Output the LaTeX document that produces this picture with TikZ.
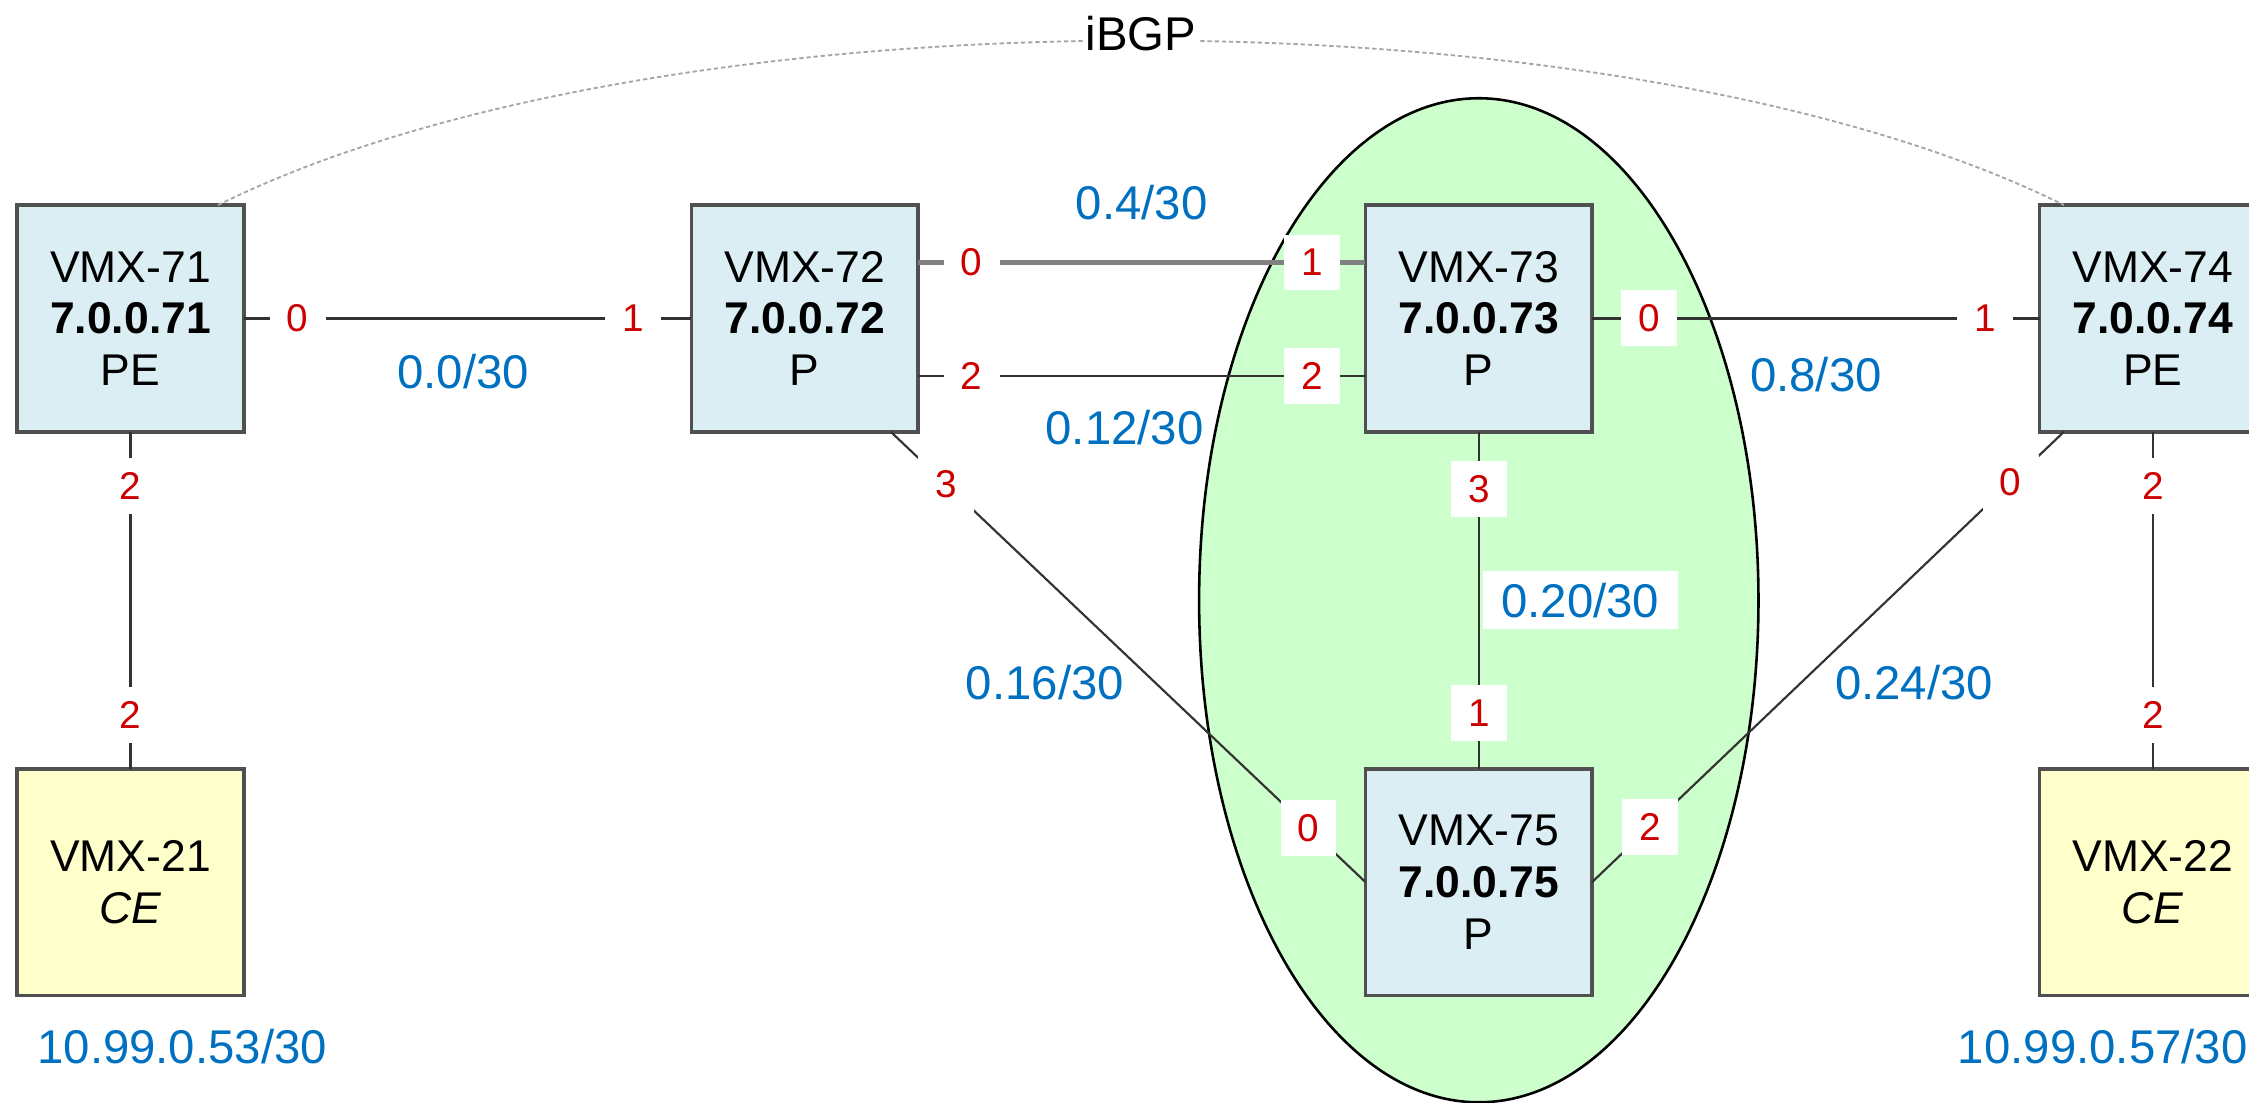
\documentclass[tikz,border=0pt]{standalone}
\usepackage{fontspec}
\setmainfont{Liberation Sans}
\usetikzlibrary{positioning, calc, backgrounds}
\definecolor{routerfill}{RGB}{219, 238, 243}
\definecolor{cefill}{RGB}{255, 255, 204}
\definecolor{areafill}{RGB}{204, 255, 204}
\definecolor{portred}{RGB}{204, 0, 0}
\definecolor{netblue}{RGB}{0, 112, 192}
\definecolor{boxedge}{RGB}{80, 80, 80}

\begin{document}
\begin{tikzpicture}[
    % Global settings
    x=1pt, y=-1pt,
    node distance=235pt and 312pt,
    % Box styles
    router/.style={
        rectangle,
        minimum width=158pt,
        minimum height=158pt,
        align=center,
        draw=boxedge,
        fill=routerfill,
        line width=2.5pt,
        outer sep=0pt,
        font=\fontsize{31}{36}\selectfont
    },
    ce/.style={
        router,
        fill=cefill
    },
    % Link styles
    wire/.style={
        draw=black!80,
        line width=1.5pt
    },
    trunk/.style={
        draw=black!50,
        line width=3.5pt
    },
    ibgp/.style={
        draw=black!35,
        line width=1.3pt,
        dash pattern=on 3pt off 2pt
    },
    area/.style={
        fill=areafill,
        draw=black,
        line width=1.8pt
    },
    % Label styles
    port/.style={
        fill=white,
        text=portred,
        minimum width=39pt,
        minimum height=39pt,
        inner sep=0pt,
        font=\fontsize{27}{32}\selectfont
    },
    net/.style={
        text=netblue,
        inner sep=2pt,
        font=\fontsize{33}{40}\selectfont
    }
]

\useasboundingbox (0,0) rectangle (1568,769);
\clip (0,0) rectangle (1568,769);

% --- Routers ---
\node (vmx71) [router] at (91,222) {VMX-71\\\textbf{7.0.0.71}\\PE};
\node (vmx72) [router, right=of vmx71] {VMX-72\\\textbf{7.0.0.72}\\P};
\node (vmx73) [router, right=of vmx72] {VMX-73\\\textbf{7.0.0.73}\\P};
\node (vmx74) [router, right=of vmx73] {VMX-74\\\textbf{7.0.0.74}\\PE};
\node (vmx75) [router, below=of vmx73] {VMX-75\\\textbf{7.0.0.75}\\P};

% Customer edges
\node (vmx21) [ce, below=of vmx71] {VMX-21\\\textit{CE}};
\node (vmx22) [ce, below=of vmx74] {VMX-22\\\textit{CE}};

\node (net21) [net, below=21pt of vmx21, xshift=36pt] {10.99.0.53/30};
\node (net22) [net, below=21pt of vmx22, xshift=-35pt] {10.99.0.57/30};

% --- Links ---
\draw [wire] (vmx71) -- (vmx72)
    node[port, pos=0.12] {0} node[port, pos=0.87] {1}
    node[net, midway, xshift=-3pt, yshift=-37pt] {0.0/30};
\draw [trunk] ([yshift=39pt]vmx72.east) -- ([yshift=39pt]vmx73.west)
    node[port, pos=0.12] {0} node[port, pos=0.88] {1}
    node[net, midway, yshift=42pt] {0.4/30};
\draw [wire] ([yshift=-40pt]vmx72.east) -- ([yshift=-40pt]vmx73.west)
    node[port, pos=0.12] {2} node[port, pos=0.88] {2}
    node[net, midway, xshift=-12pt, yshift=-36pt] {0.12/30};
\draw [wire] (vmx73) -- (vmx74)
    node[port, pos=0.128] {0} node[port, pos=0.878] {1}
    node[net, midway, yshift=-39pt] {0.8/30};
\draw [wire] (vmx73) -- (vmx75)
    node[port, pos=0.17] {3} node[port, pos=0.834] {1}
    node[net, midway, anchor=west, xshift=2pt, fill=white, inner xsep=13pt, inner ysep=8pt] {0.20/30};
\draw [wire] ([xshift=-19pt]vmx72.south east) -- (vmx75.west)
    node[port, pos=0.116] {3} node[port, pos=0.88] {0}
    node[net, midway, xshift=-58pt, yshift=-18pt] {0.16/30};
\draw [wire] ([xshift=17pt]vmx74.south west) -- (vmx75.east)
    node[port, pos=0.113] {0} node[port, pos=0.877] {2}
    node[net, midway, xshift=60pt, yshift=-18pt] {0.24/30};

% Access links
\draw [wire] (vmx71) -- (vmx21)
    node[port, pos=0.16] {2} node[port, pos=0.84] {2};
\draw [wire] (vmx74) -- (vmx22)
    node[port, pos=0.16] {2} node[port, pos=0.84] {2};

% iBGP session
\draw [ibgp] ([xshift=-18pt]vmx71.north east)
    .. controls +(308,-153) and +(-308,-153) .. ([xshift=17pt]vmx74.north west)
    node[pos=0.5, fill=white, inner sep=1pt, yshift=5pt, font=\fontsize{33}{40}\selectfont] {iBGP};

% --- Core area ---
\begin{scope}[on background layer]
    \draw [area] ($(vmx73)!0.5!(vmx75)$) ellipse [x radius=195pt, y radius=350pt];
\end{scope}

\end{tikzpicture}
\end{document}
